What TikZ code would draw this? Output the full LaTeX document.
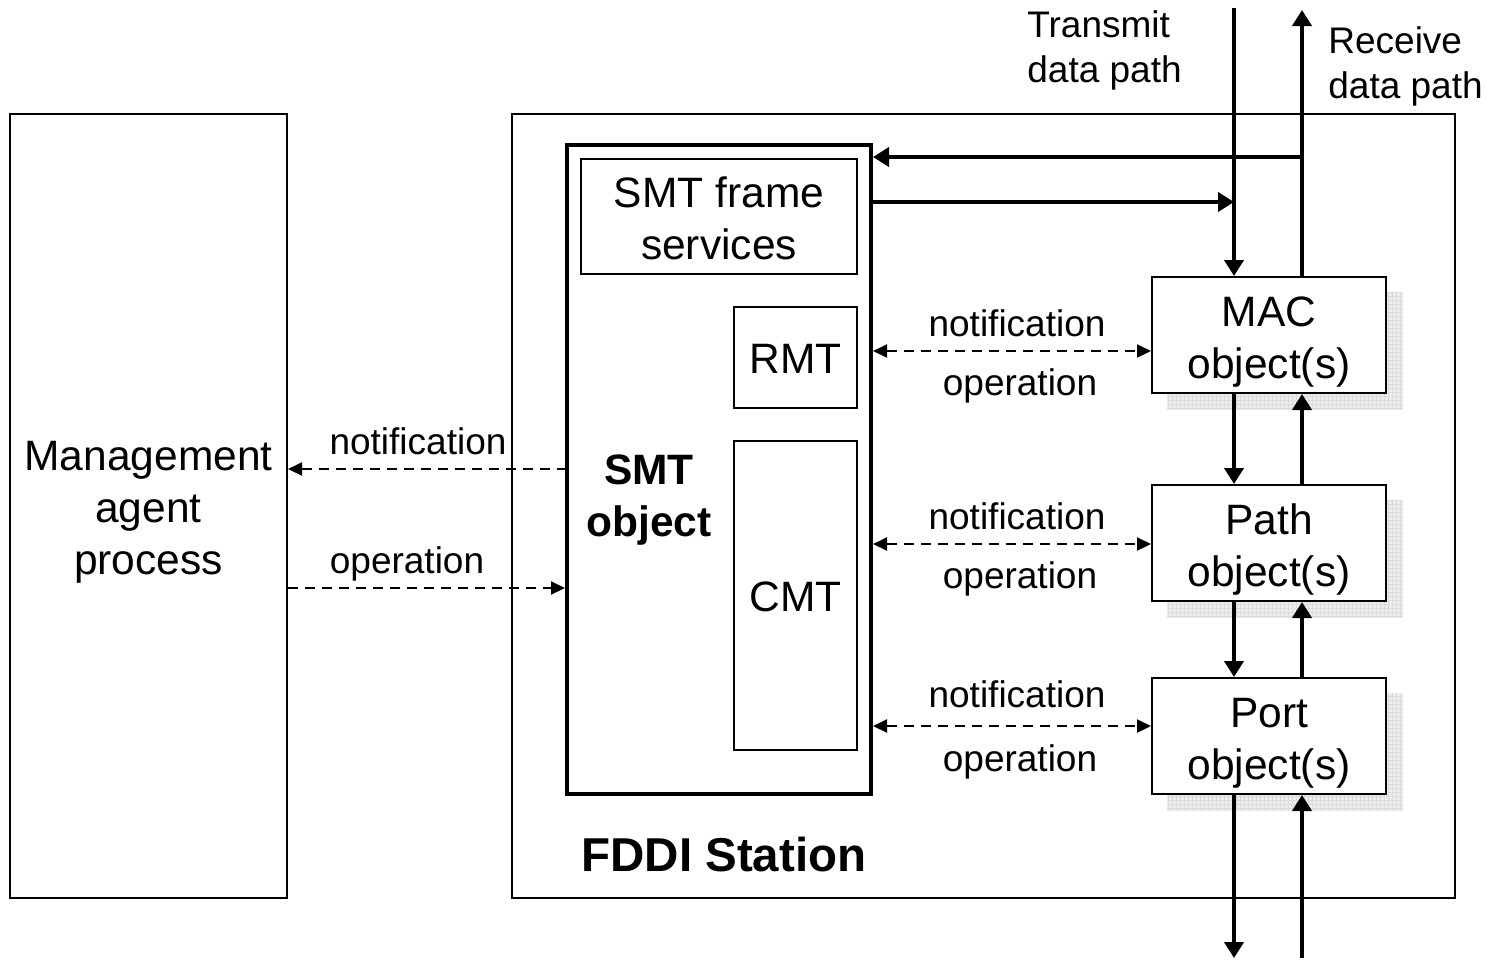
\documentclass[tikz,border=0pt]{standalone}
\usepackage{fontspec}
\setmainfont{Liberation Sans}
\usetikzlibrary{arrows.meta,backgrounds}
\begin{document}
\begin{tikzpicture}[x=0.5pt,y=-0.5pt,
  big/.style={font=\fontsize{21.25}{26}\selectfont},
  small/.style={font=\fontsize{18.5}{22.5}\selectfont},
  box/.style={draw, line width=1pt, fill=white, inner sep=0pt},
  txt/.style={big, align=center, inner sep=0pt},
  objbox/.style={box, minimum width=117pt, minimum height=58pt},
  flow/.style={line width=2pt, -{Triangle[length=8pt,width=9.5pt]}},
  msg/.style={line width=1pt, dash pattern=on 5pt off 3.5pt, >={Triangle[length=7pt,width=6.5pt]}},
  lbl/.style={small, inner sep=0pt}]
\useasboundingbox (0,0) rectangle (1487,960);

% main boxes
\node[box, minimum width=138.5pt, minimum height=392pt] (mgmt) at (148.5,506) {};
\node[txt] (mgmtt) at ([shift={(0,6)}]mgmt.center) {Management\\agent\\process};
\node[draw, line width=1pt, minimum width=471.5pt, minimum height=392pt, inner sep=0pt] (station) at (983.5,506) {};
\node[draw, line width=2pt, fill=white, minimum width=152pt, minimum height=324.5pt, inner sep=0pt] (smt) at (719,469.5) {};
\node[box, minimum width=138pt, minimum height=57.5pt] (sfs) at (719,216.5) {};
\node[txt] (sfst) at ([shift={(0,2)}]sfs.center) {SMT frame\\services};
\node[box, minimum width=61.5pt, minimum height=50.5pt] (rmt) at (795.5,357.5) {};
\node[txt] (rmtt) at ([shift={(0,1)}]rmt.center) {RMT};
\node[box, minimum width=61.5pt, minimum height=154.5pt] (cmt) at (795.5,595.5) {};
\node[txt] (cmtt) at ([shift={(0,1)}]cmt.center) {CMT};
\node[font=\fontsize{21.25}{26}\selectfont\bfseries, align=center, inner sep=0pt] (smtlbl) at (649,500) {SMT\\object};
\node[font=\fontsize{23.75}{28}\selectfont\bfseries, inner sep=0pt] (fddi) at (724,855) {FDDI Station};

\node[objbox] (mac) at (1269,335) {};
\node[objbox] (path) at (1269,543) {};
\node[objbox] (port) at (1269,736) {};
\node[txt] (mact) at ([shift={(0,7)}]mac.center) {MAC\\object(s)};
\node[txt] (patht) at ([shift={(0,6)}]path.center) {Path\\object(s)};
\node[txt] (portt) at ([shift={(0,7)}]port.center) {Port\\object(s)};

% shadows
\begin{pgfonlayer}{background}
\foreach \n in {mac,path,port}{
  \fill[gray!14] ([shift={(16,16)}]\n.north west) rectangle ([shift={(16,16)}]\n.south east);
  \draw[gray!28, line width=0.25pt, step=2pt] ([shift={(16,16)}]\n.north west) grid ([shift={(16,16)}]\n.south east);
}
\end{pgfonlayer}

% data path labels
\node[lbl, align=left, anchor=west] (txl) at (1027,50) {Transmit\\data path};
\node[lbl, align=left, anchor=west] (rxl) at (1328,66) {Receive\\data path};

% data path coordinates
\coordinate (txtop) at (1234,8);
\coordinate (txbot) at (1234,958);
\coordinate (rxtop) at (1302,10);
\coordinate (rxbot) at (1302,958);
\coordinate (fb1) at (1302,157);
\coordinate (fb2) at (1234,202);

% transmit (down)
\draw[flow] (txtop) -- (mac.north -| txtop);
\draw[flow] (mac.south -| txtop) -- (path.north -| txtop);
\draw[flow] (path.south -| txtop) -- (port.north -| txtop);
\draw[flow] (port.south -| txtop) -- (txbot);
% receive (up)
\draw[flow] (rxbot) -- (port.south -| rxbot);
\draw[flow] (port.north -| rxbot) -- (path.south -| rxbot);
\draw[flow] (path.north -| rxbot) -- (mac.south -| rxbot);
\draw[flow] (mac.north -| rxbot) -- (rxtop);
% frame services
\draw[flow] (fb1) -- (smt.east |- fb1);
\draw[flow] (smt.east |- fb2) -- (fb2);

% notification / operation to objects
\foreach \y/\n in {351/mac,544/path,726/port}{
  \draw[msg, <->] (smt.east |- 0,\y) -- (\n.west |- 0,\y);
}
\node[lbl] (n1) at (1017,323) {notification};
\node[lbl] (o1) at (1020,386) {operation};
\node[lbl] (n2) at (1017,516) {notification};
\node[lbl] (o2) at (1020,579) {operation};
\node[lbl] (n3) at (1017,694) {notification};
\node[lbl] (o3) at (1020,762) {operation};

% management
\draw[msg, <-] (mgmt.east |- 0,469) -- (smt.west |- 0,469);
\draw[msg, ->] (mgmt.east |- 0,588) -- (smt.west |- 0,588);
\node[lbl] (n0) at (418,441) {notification};
\node[lbl] (o0) at (407,564) {operation};
\end{tikzpicture}
\end{document}
